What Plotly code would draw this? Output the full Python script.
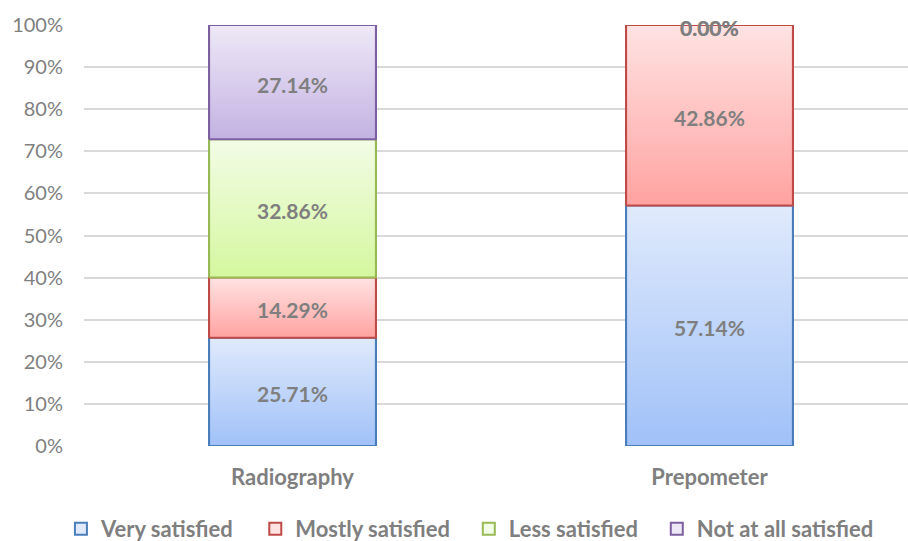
import plotly.graph_objects as go

# Satisfaction survey shares (%) for each measuring method
categories = ["Radiography", "Prepometer"]
series_names = ["Very satisfied", "Mostly satisfied", "Less satisfied", "Not at all satisfied"]
very_satisfied = [25.71, 57.14]
mostly_satisfied = [14.29, 42.86]
less_satisfied = [32.86, 0.00]
not_at_all_satisfied = [27.14, 0.00]
y_ticks = [0, 10, 20, 30, 40, 50, 60, 70, 80, 90, 100]
y_tick_labels = [f"{t}%" for t in y_ticks]

series_values = [very_satisfied, mostly_satisfied, less_satisfied, not_at_all_satisfied]

# (top colour, bottom colour, border colour) for each series
styles = [
    ("#e0eafc", "#a0c1f8", "#4a7ebb"),
    ("#ffe3e3", "#ffa3a1", "#be4b48"),
    ("#f2fce6", "#d5f79f", "#98b954"),
    ("#efe9f7", "#c3b2e2", "#7d60a0"),
]
# extra breathing room after each legend entry
legend_pad = ["\u2002\u2009\u2009", "\u2002\u2009", "\u2002\u2009", ""]

BAR_W = 0.4
GRAY = "#7f7f7f"
FONT = "Lato"

fig = go.Figure()
x_pos = list(range(len(categories)))

# Stacked bars (solid light tone) carry the legend entries
for name, pad, vals, (top, bot, edge) in zip(series_names, legend_pad, series_values, styles):
    fig.add_trace(go.Bar(
        x=x_pos, y=vals, name=name + pad, width=BAR_W,
        marker=dict(color=top, line=dict(color=edge, width=2)),
        hoverinfo="skip",
    ))

# Gradient-filled segments laid over the bars, plus centred value labels
bases = [0.0] * len(categories)
annotations = []
for name, vals, (top, bot, edge) in zip(series_names, series_values, styles):
    for j, v in enumerate(vals):
        b = bases[j]
        xs = [j - BAR_W / 2, j + BAR_W / 2, j + BAR_W / 2, j - BAR_W / 2, j - BAR_W / 2]
        ys = [b, b, b + v, b + v, b]
        if v > 0:
            fig.add_trace(go.Scatter(
                x=xs, y=ys, mode="lines", fill="toself",
                line=dict(color=edge, width=2),
                fillgradient=dict(type="vertical", colorscale=[[0, bot], [1, top]]),
                showlegend=False, hoverinfo="skip",
            ))
        annotations.append(dict(
            x=j, y=b + v / 2, xref="x", yref="y", text=f"{v:.2f}%",
            showarrow=False, xanchor="center", yanchor="middle", yshift=-2,
            font=dict(family=FONT, size=21, color=GRAY, weight="bold"),
        ))
        bases[j] = b + v

fig.update_layout(
    barmode="stack",
    width=908, height=541,
    margin=dict(l=84, r=0, t=25, b=95, autoexpand=False),
    paper_bgcolor="white", plot_bgcolor="white",
    font=dict(family=FONT, color=GRAY),
    annotations=annotations,
    legend=dict(
        orientation="h", x=-0.028, y=-0.197, xanchor="left", yanchor="middle",
        font=dict(family=FONT, size=22, color=GRAY, weight="bold"),
        traceorder="normal",
    ),
)
fig.update_xaxes(
    range=[-0.5, (908 - 84) / 417 - 0.5],
    tickvals=x_pos, ticktext=categories,
    tickfont=dict(family=FONT, size=22, color=GRAY, weight="bold"),
    showgrid=False, zeroline=False, showline=False, ticks="",
    ticklabelstandoff=16,
)
fig.update_yaxes(
    range=[0, 100], tickvals=y_ticks, ticktext=y_tick_labels,
    tickfont=dict(family=FONT, size=20, color=GRAY),
    showgrid=True, gridcolor="#d9d9d9", gridwidth=1.5,
    zeroline=False, showline=False, ticks="",
    ticklabelstandoff=20,
)

fig.write_html("out.html")
